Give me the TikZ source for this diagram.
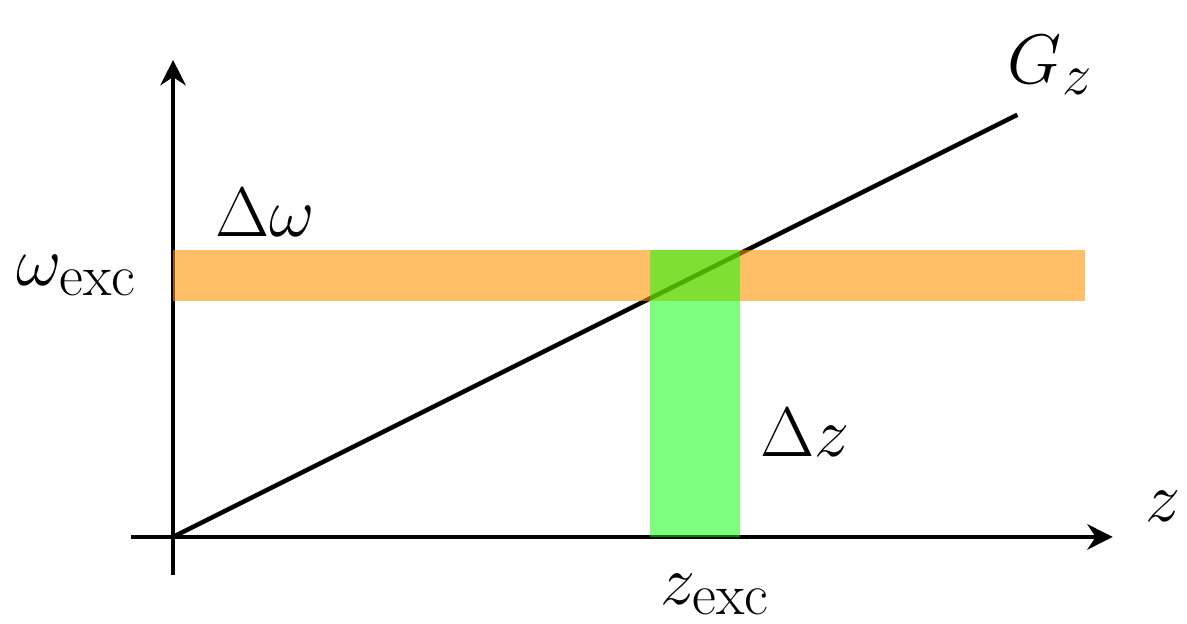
\documentclass[tikz,border=0pt]{standalone}
\usepackage{xcolor}
\definecolor{bandOrange}{RGB}{255,148,0}
\definecolor{bandGreen}{RGB}{0,255,0}
\usepackage{tikz}
\usetikzlibrary{arrows.meta,positioning}
\tikzset{
  >={Stealth[length=3mm,width=3mm]},
  axis/.style={->,line width=1.5pt},
  curve/.style={line width=1.5pt},
  orangeband/.style={fill=bandOrange,fill opacity=0.6,draw=none},
  greenband/.style={fill=bandGreen,fill opacity=0.5,draw=none},
  biglabel/.style={font=\Huge,inner sep=0pt,scale=0.95,transform shape},
}

\begin{document}
\begin{tikzpicture}[x=1cm,y=1cm]
  \useasboundingbox (-2.05,-1.03) rectangle (12.01,6.36);

  \coordinate (o) at (0,0);
  \coordinate (xstart) at (-0.5,0);
  \coordinate (xend) at (11.13,0);
  \coordinate (ystart) at (0,-0.45);
  \coordinate (yend) at (0,5.65);
  \coordinate (gend) at (10,5);

  \draw[axis] (xstart) -- (xend);
  \draw[axis] (ystart) -- (yend);
  \draw[curve] (o) -- (gend);

  % bands
  \fill[orangeband] (0,2.8) rectangle (10.8,3.4);
  \fill[greenband] (5.65,0) rectangle (6.72,3.4);

  \node[biglabel] (wexc) at (-1.14,3.1) {$\omega_{\mathrm{exc}}$};
  \node[biglabel] (dw) at (1.09,3.84) {$\Delta\omega$};
  \node[biglabel] (dz) at (7.49,1.24) {$\Delta z$};
  \node[biglabel] (zexc) at (6.42,-0.68) {$z_{\mathrm{exc}}$};
  \node[biglabel] (zlab) at (11.73,0.36) {$z$};
  \node[biglabel] (gz) at (10.39,5.59) {$G_z$};
\end{tikzpicture}
\end{document}
